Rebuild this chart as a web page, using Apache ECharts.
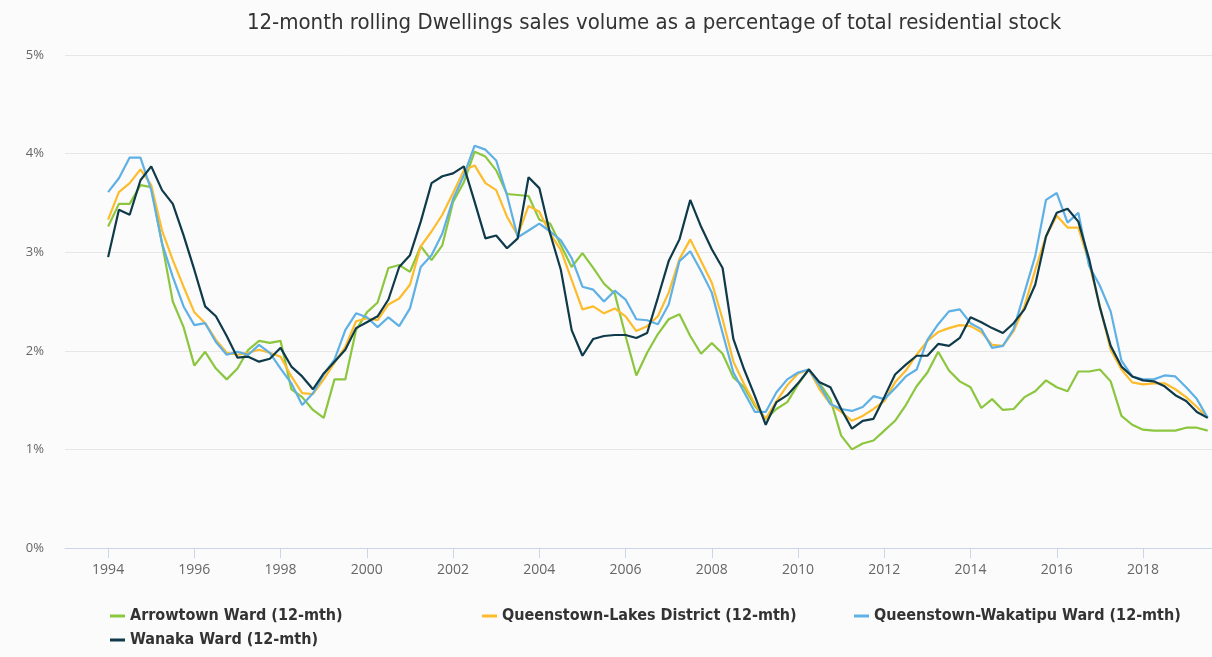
<!DOCTYPE html>
<html>
<head>
<meta charset="utf-8">
<script src="https://cdn.jsdelivr.net/npm/echarts@6/dist/echarts.min.js"></script>
<style>
html,body{margin:0;padding:0;background:#fbfbfb;}
#c{width:1212px;height:657px;}
</style>
</head>
<body>
<div id="c"></div>
<script>
// Quarterly observations, first at 1994 Q1
const startYear = 1994;
const quarterCount = 103;
const quarters = Array.from({length: quarterCount}, (_, i) => startYear + i * 0.25);
const yearTicks = [1994, 1996, 1998, 2000, 2002, 2004, 2006, 2008, 2010, 2012, 2014, 2016, 2018];

const seriesNames = [
  'Arrowtown Ward (12-mth)',
  'Queenstown-Lakes District (12-mth)',
  'Queenstown-Wakatipu Ward (12-mth)',
  'Wanaka Ward (12-mth)'
];

const arrowtown = [
  3.26, 3.49, 3.49, 3.68, 3.66, 3.09, 2.50, 2.24, 1.85, 1.99, 1.82, 1.71, 1.82, 2.01, 2.10, 2.08, 2.10, 1.61, 1.53, 1.40, 1.32, 1.71, 1.71, 2.21, 2.39,
  2.49, 2.84, 2.87, 2.80, 3.06, 2.92, 3.07, 3.51, 3.71, 4.02, 3.97, 3.83, 3.59, 3.58, 3.57, 3.33, 3.29, 3.07, 2.85, 2.99, 2.84, 2.68, 2.58, 2.15, 1.75,
  1.98, 2.17, 2.32, 2.37, 2.15, 1.97, 2.08, 1.97, 1.73, 1.63, 1.44, 1.31, 1.41, 1.48, 1.66, 1.81, 1.67, 1.51, 1.14, 1.00, 1.06, 1.09, 1.19, 1.29, 1.45,
  1.64, 1.78, 1.99, 1.80, 1.69, 1.63, 1.42, 1.51, 1.40, 1.41, 1.53, 1.59, 1.70, 1.63, 1.59, 1.79, 1.79, 1.81, 1.69, 1.34, 1.25, 1.20, 1.19, 1.19, 1.19, 1.22, 1.22, 1.19
];
const queenstownLakes = [
  3.33, 3.61, 3.70, 3.84, 3.68, 3.22, 2.92, 2.65, 2.39, 2.28, 2.11, 1.98, 1.96, 1.98, 2.01, 1.98, 1.94, 1.74, 1.57, 1.56, 1.71, 1.88, 2.04, 2.30, 2.33,
  2.31, 2.47, 2.53, 2.67, 3.06, 3.21, 3.38, 3.60, 3.83, 3.88, 3.70, 3.63, 3.36, 3.17, 3.47, 3.41, 3.19, 3.02, 2.72, 2.42, 2.45, 2.38, 2.43, 2.35, 2.20,
  2.25, 2.35, 2.59, 2.93, 3.13, 2.91, 2.69, 2.32, 1.89, 1.66, 1.46, 1.31, 1.49, 1.65, 1.77, 1.81, 1.61, 1.46, 1.38, 1.29, 1.34, 1.41, 1.49, 1.68, 1.80,
  1.96, 2.10, 2.19, 2.23, 2.26, 2.25, 2.19, 2.06, 2.05, 2.20, 2.45, 2.82, 3.16, 3.37, 3.25, 3.25, 2.89, 2.45, 2.01, 1.81, 1.68, 1.66, 1.67, 1.67, 1.61, 1.53, 1.43, 1.32
];
const queenstownWakatipu = [
  3.61, 3.75, 3.96, 3.96, 3.63, 3.09, 2.75, 2.45, 2.26, 2.28, 2.09, 1.96, 1.99, 1.96, 2.06, 1.98, 1.82, 1.67, 1.45, 1.57, 1.76, 1.91, 2.21, 2.38, 2.34,
  2.24, 2.34, 2.25, 2.43, 2.85, 2.97, 3.19, 3.54, 3.78, 4.08, 4.04, 3.93, 3.58, 3.15, 3.22, 3.29, 3.21, 3.12, 2.94, 2.65, 2.62, 2.50, 2.61, 2.52, 2.32,
  2.31, 2.27, 2.47, 2.91, 3.01, 2.81, 2.59, 2.18, 1.78, 1.58, 1.38, 1.38, 1.58, 1.71, 1.78, 1.81, 1.65, 1.46, 1.41, 1.39, 1.43, 1.54, 1.51, 1.62, 1.74,
  1.81, 2.11, 2.27, 2.40, 2.42, 2.28, 2.22, 2.03, 2.05, 2.22, 2.59, 2.96, 3.53, 3.60, 3.30, 3.40, 2.86, 2.66, 2.40, 1.90, 1.74, 1.71, 1.71, 1.75, 1.74, 1.63, 1.51, 1.32
];
const wanaka = [
  2.95, 3.43, 3.38, 3.73, 3.87, 3.63, 3.49, 3.17, 2.82, 2.45, 2.35, 2.15, 1.93, 1.94, 1.89, 1.92, 2.03, 1.84, 1.74, 1.61, 1.77, 1.89, 2.01, 2.23, 2.29,
  2.35, 2.52, 2.85, 2.97, 3.31, 3.70, 3.77, 3.80, 3.87, 3.51, 3.14, 3.17, 3.04, 3.14, 3.76, 3.65, 3.19, 2.82, 2.21, 1.95, 2.12, 2.15, 2.16, 2.16, 2.13,
  2.18, 2.54, 2.91, 3.13, 3.53, 3.26, 3.03, 2.84, 2.12, 1.81, 1.54, 1.25, 1.48, 1.55, 1.67, 1.81, 1.68, 1.63, 1.41, 1.21, 1.29, 1.31, 1.53, 1.76, 1.86,
  1.95, 1.95, 2.07, 2.05, 2.13, 2.34, 2.29, 2.23, 2.18, 2.28, 2.42, 2.67, 3.16, 3.40, 3.44, 3.31, 2.93, 2.44, 2.05, 1.84, 1.74, 1.70, 1.69, 1.64, 1.55, 1.49, 1.38, 1.32
];
const yTicks = [0, 1, 2, 3, 4, 5];

const colors = ['#8cc63f', '#fcbc2c', '#5eb0e5', '#0e3a4a'];
const valueSets = [arrowtown, queenstownLakes, queenstownWakatipu, wanaka];

const chart = echarts.init(document.getElementById('c'), null, {renderer: 'canvas'});
const condensed = "'Liberation Sans Narrow', 'DejaVu Sans Condensed', 'Open Sans', sans-serif";

chart.setOption({
  animation: false,
  backgroundColor: '#fbfbfb',
  title: {
    text: '12-month rolling Dwellings sales volume as a percentage of total residential stock',
    left: 649,
    textAlign: 'center',
    top: 7,
    textStyle: {fontFamily: condensed, fontSize: 22, fontWeight: 'normal', color: '#333333'}
  },
  legend: {
    data: seriesNames,
    left: 105,
    top: 603,
    width: 1110,
    itemGap: 8,
    itemWidth: 15,
    itemHeight: 3,
    icon: 'rect',
    textStyle: {fontFamily: condensed, fontSize: 16, fontWeight: 'bold', color: '#333333', width: 344, lineHeight: 10}
  },
  grid: {left: 65, right: 0, top: 55, bottom: 109, containLabel: false},
  xAxis: {
    type: 'value',
    min: 1993,
    max: 2019.6,
    splitLine: {show: false},
    axisLine: {show: true, lineStyle: {color: '#ccd6eb', width: 1}},
    axisTick: {show: true, customValues: yearTicks, length: 10, lineStyle: {color: '#ccd6eb'}},
    axisLabel: {customValues: yearTicks, color: '#666666', fontSize: 14, fontFamily: "'Open Sans', sans-serif", margin: 15, formatter: v => String(v)}
  },
  yAxis: {
    type: 'value',
    min: 0,
    max: 5,
    interval: 1,
    axisLine: {show: false},
    axisTick: {show: false},
    splitLine: {lineStyle: {color: '#e6e6e6', width: 1}},
    axisLabel: {color: '#666666', fontSize: 13, fontFamily: "'Open Sans', sans-serif", margin: 21, formatter: '{value}%'}
  },
  series: seriesNames.map((name, k) => ({
    name: name,
    type: 'line',
    data: quarters.map((q, i) => [q, valueSets[k][i]]),
    showSymbol: false,
    symbol: 'none',
    lineStyle: {width: 2.2, color: colors[k]},
    itemStyle: {color: colors[k]},
    emphasis: {disabled: true}
  }))
});
</script>
</body>
</html>
